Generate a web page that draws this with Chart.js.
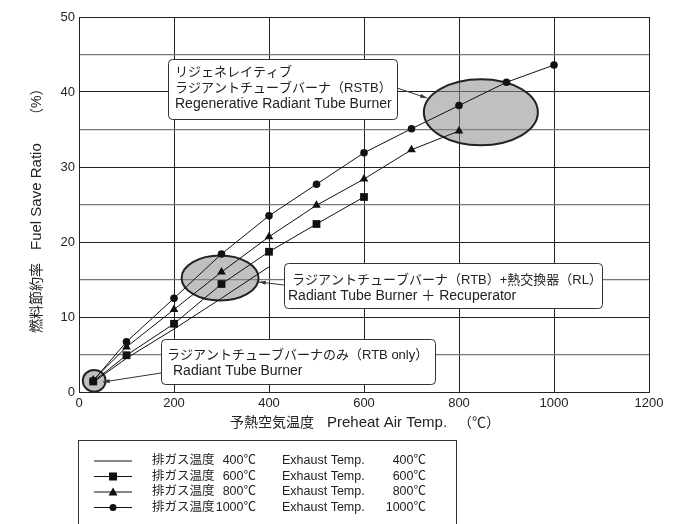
<!DOCTYPE html>
<html lang="ja">
<head>
<meta charset="UTF-8">
<title>Fuel Save Ratio</title>
<script src="https://cdn.jsdelivr.net/npm/chart.js"></script>
<style>
  html, body { margin: 0; padding: 0; background: #fff; }
</style>
</head>
<body>
<canvas id="fuelChart" width="690" height="524"></canvas>
<script>
// preheat air temperature (categories)
const preheat = [30, 100, 200, 300, 400, 500, 600, 700, 800, 900, 1000];

// fuel save ratio (%) per exhaust gas temperature
const exhaust400 = [1.3, 4.5, 8.4, 12.5, 16.7];
const exhaust600 = [1.4, 4.9, 9.1, 14.4, 18.7, 22.4, 26.0];
const exhaust800 = [1.6, 6.0, 11.0, 16.0, 20.7, 24.9, 28.4, 32.3, 34.8];
const exhaust1000 = [1.5, 6.7, 12.5, 18.4, 23.5, 27.7, 31.9, 35.1, 38.2, 41.3, 43.6];

const exhaustValues = ['400℃', '600℃', '800℃', '1000℃'];
const xTicks = [0, 200, 400, 600, 800, 1000, 1200];
const yTicks = [0, 10, 20, 30, 40, 50];

const FONT = "'Liberation Sans', 'Noto Sans CJK JP', sans-serif";
Chart.defaults.font.family = FONT;

const toPoints = vals => vals.map((v, i) => ({ x: preheat[i], y: v }));

const series = [
    { data: exhaust400, style: false, radius: 0 },
    { data: exhaust600, style: 'rect', radius: 5.5 },
    { data: exhaust800, style: 'triangle', radius: 5 },
    { data: exhaust1000, style: 'circle', radius: 3.8 }
];

// grey ellipses, in data units
const zones = [
    { cx: 32, cy: 1.5, rx: 24, ry: 1.45 },
    { cx: 297, cy: 15.2, rx: 81, ry: 3.0 },
    { cx: 846, cy: 37.3, rx: 120, ry: 4.4 }
];

// callout boxes (pixels); each line: [text, x, y, font size]
const callouts = [
    { x: 168, y: 59, w: 229, h: 60,
      lines: [['リジェネレイティブ', 175, 72, 13], ['ラジアントチューブバーナ（RSTB）', 175, 88, 13], ['Regenerative Radiant Tube Burner', 175, 104, 14]],
      arrow: [397, 88, 427, 98] },
    { x: 284, y: 263, w: 318, h: 45,
      lines: [['ラジアントチューブバーナ（RTB）+熱交換器（RL）', 292, 280, 13], ['Radiant Tube Burner ＋ Recuperator', 288, 296, 14]],
      arrow: [284, 285, 259, 282] },
    { x: 161, y: 339, w: 274, h: 45,
      lines: [['ラジアントチューブバーナのみ（RTB only）', 167, 355, 13], ['Radiant Tube Burner', 173, 371, 14]],
      arrow: [161, 373, 103, 382] }
];

function roundBox(ctx, x, y, w, h, r) {
    ctx.beginPath();
    ctx.moveTo(x + r, y);
    ctx.arcTo(x + w, y, x + w, y + h, r);
    ctx.arcTo(x + w, y + h, x, y + h, r);
    ctx.arcTo(x, y + h, x, y, r);
    ctx.arcTo(x, y, x + w, y, r);
    ctx.closePath();
}

function arrow(ctx, x1, y1, x2, y2) {
    ctx.beginPath();
    ctx.moveTo(x1, y1);
    ctx.lineTo(x2, y2);
    ctx.stroke();
    const a = Math.atan2(y2 - y1, x2 - x1);
    ctx.beginPath();
    ctx.moveTo(x2, y2);
    ctx.lineTo(x2 - 7 * Math.cos(a - 0.3), y2 - 7 * Math.sin(a - 0.3));
    ctx.lineTo(x2 - 7 * Math.cos(a + 0.3), y2 - 7 * Math.sin(a + 0.3));
    ctx.closePath();
    ctx.fill();
}

const zonePlugin = {
    id: 'zones',
    beforeDatasetsDraw(chart) {
        const { ctx, scales: { x, y } } = chart;
        ctx.save();
        zones.forEach(z => {
            const cx = x.getPixelForValue(z.cx), cy = y.getPixelForValue(z.cy);
            const rx = x.getPixelForValue(z.cx + z.rx) - cx;
            const ry = cy - y.getPixelForValue(z.cy + z.ry);
            ctx.beginPath();
            ctx.ellipse(cx, cy, rx, ry, 0, 0, Math.PI * 2);
            ctx.fillStyle = 'rgba(140,140,146,0.55)';
            ctx.fill();
            ctx.lineWidth = 2;
            ctx.strokeStyle = '#222';
            ctx.stroke();
        });
        ctx.restore();
    },
    afterDatasetsDraw(chart) {
        const { ctx } = chart;
        ctx.save();
        ctx.textBaseline = 'middle';
        callouts.forEach(c => {
            roundBox(ctx, c.x + 0.5, c.y + 0.5, c.w, c.h, 4);
            ctx.fillStyle = '#fff';
            ctx.fill();
            ctx.strokeStyle = '#333';
            ctx.lineWidth = 1;
            ctx.stroke();
            ctx.fillStyle = '#222';
            c.lines.forEach(([t, tx, ty, fs]) => {
                ctx.font = fs + 'px ' + FONT;
                ctx.fillText(t, tx, ty);
            });
            ctx.strokeStyle = '#333';
            ctx.fillStyle = '#333';
            arrow(ctx, ...c.arrow);
        });

        // axis titles
        ctx.fillStyle = '#222';
        ctx.textAlign = 'left';
        ctx.font = '14px ' + FONT;
        ctx.fillText('予熱空気温度', 230, 423);
        ctx.fillText('（℃）', 458, 423);
        ctx.font = '15px ' + FONT;
        ctx.fillText('Preheat Air Temp.', 327, 423);

        ctx.save();
        ctx.translate(37, 0);
        ctx.rotate(-Math.PI / 2);
        ctx.font = '14px ' + FONT;
        ctx.fillText('燃料節約率', -333, 0);
        ctx.fillText('（%）', -122, 0);
        ctx.font = '15px ' + FONT;
        ctx.fillText('Fuel Save Ratio', -250, 0);
        ctx.restore();

        // legend
        ctx.strokeStyle = '#333';
        ctx.lineWidth = 1;
        ctx.strokeRect(78.5, 440.5, 378, 100);
        ctx.font = '12.5px ' + FONT;
        const rowsY = [461, 476.5, 492, 507.5];
        series.forEach((s, i) => {
            const ry = rowsY[i];
            ctx.strokeStyle = '#111';
            ctx.beginPath();
            ctx.moveTo(94, ry);
            ctx.lineTo(132, ry);
            ctx.stroke();
            ctx.fillStyle = '#111';
            const mx = 113;
            if (s.style === 'rect') ctx.fillRect(mx - 4, ry - 4, 8, 8);
            if (s.style === 'triangle') {
                ctx.beginPath();
                ctx.moveTo(mx, ry - 4.5); ctx.lineTo(mx + 4.5, ry + 3.5); ctx.lineTo(mx - 4.5, ry + 3.5);
                ctx.closePath(); ctx.fill();
            }
            if (s.style === 'circle') {
                ctx.beginPath(); ctx.arc(mx, ry, 3.5, 0, Math.PI * 2); ctx.fill();
            }
            ctx.fillStyle = '#222';
            ctx.textAlign = 'left';
            ctx.fillText('排ガス温度', 152, ry);
            ctx.fillText('Exhaust Temp.', 282, ry);
            ctx.textAlign = 'right';
            ctx.fillText(exhaustValues[i], 256, ry);
            ctx.fillText(exhaustValues[i], 426, ry);
        });
        ctx.restore();
    }
};

new Chart(document.getElementById('fuelChart'), {
    type: 'line',
    data: {
        datasets: series.map((s, i) => ({
            label: 'Exhaust Temp. ' + exhaustValues[i],
            data: toPoints(s.data),
            borderColor: '#111',
            backgroundColor: '#111',
            borderWidth: 1,
            pointStyle: s.style,
            pointRadius: s.radius,
            pointBorderWidth: 0,
            tension: 0
        }))
    },
    options: {
        responsive: false,
        animation: false,
        layout: { padding: { top: 17, right: 41, left: 0, bottom: 0 } },
        plugins: { legend: { display: false }, tooltip: { enabled: false } },
        scales: {
            x: {
                type: 'linear',
                min: xTicks[0],
                max: xTicks[xTicks.length - 1],
                afterBuildTicks: s => { s.ticks = xTicks.map(v => ({ value: v })); },
                ticks: { color: '#222', font: { size: 13 }, padding: 4, maxRotation: 0, callback: v => String(v) },
                grid: { color: '#222', lineWidth: 1, drawTicks: false },
                border: { color: '#222' },
                afterFit: s => { s.height = 132; }
            },
            y: {
                min: yTicks[0],
                max: yTicks[yTicks.length - 1],
                ticks: {
                    stepSize: 5,
                    autoSkip: false,
                    color: '#222',
                    font: { size: 13 },
                    padding: 4,
                    callback: v => (yTicks.includes(v) ? String(v) : '')
                },
                grid: {
                    color: c => (c.tick && yTicks.includes(c.tick.value) ? '#222' : '#777'),
                    lineWidth: c => (c.tick && yTicks.includes(c.tick.value) ? 1 : 1.3),
                    drawTicks: false
                },
                border: { color: '#222' },
                afterFit: s => { s.width = 79; }
            }
        }
    },
    plugins: [zonePlugin]
});
</script>
</body>
</html>
